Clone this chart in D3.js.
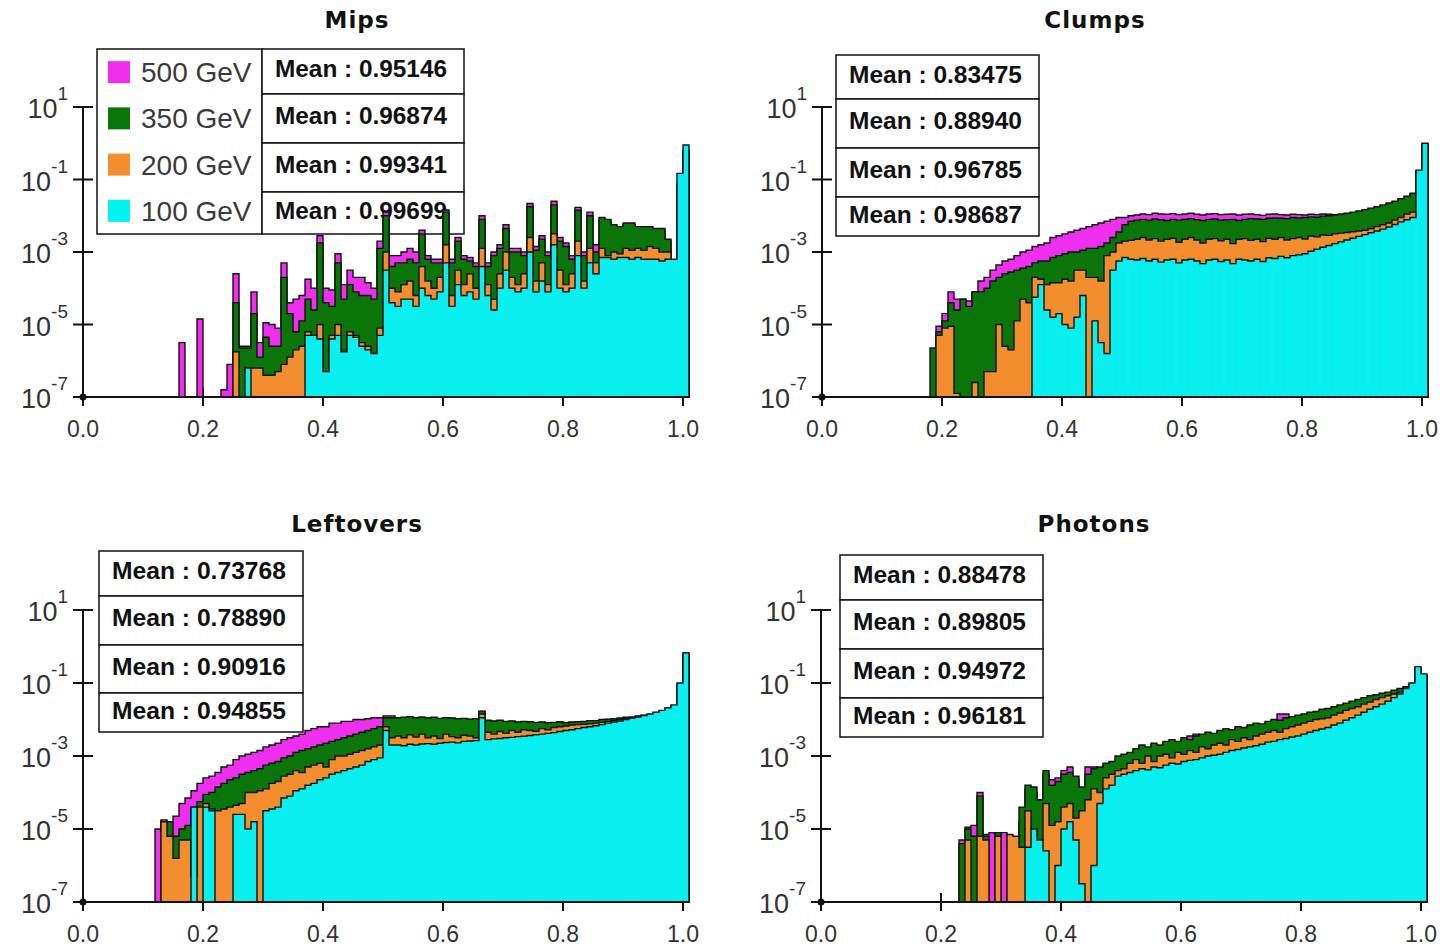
<!DOCTYPE html>
<html>
<head>
<meta charset="utf-8">
<script src="https://cdn.jsdelivr.net/npm/d3@7"></script>
<style>
  body { margin: 0; background: #fff; }
  svg text { font-family: "Liberation Sans", Arial, sans-serif; }
  .title { font-family: "DejaVu Sans", sans-serif; font-weight: bold; font-size: 23px; letter-spacing: 1px; fill: #111; }
  .mean { font-weight: bold; font-size: 23px; fill: #111; }
  .tick { font-size: 23px; fill: #333; }
  .legend { font-size: 28px; fill: #3a3a3a; }
</style>
</head>
<body>
<svg id="chart" width="1440" height="949"></svg>
<script>
// ---- data (bin contents as log10, bins of 0.01 starting at the given bin index) ----
var titles = ['Mips', 'Clumps', 'Leftovers', 'Photons'];
var energies = ['500 GeV', '350 GeV', '200 GeV', '100 GeV'];

var mipsMeans = ['0.95146', '0.96874', '0.99341', '0.99699'];
var clumpsMeans = ['0.83475', '0.88940', '0.96785', '0.98687'];
var leftoversMeans = ['0.73768', '0.78890', '0.90916', '0.94855'];
var photonsMeans = ['0.88478', '0.89805', '0.94972', '0.96181'];

var yTickExponents = [1, -1, -3, -5, -7];
var xTickValues = [0, 0.2, 0.4, 0.6, 0.8, 1.0];
var binWidth = 0.01;

// first bin index of each series: 500, 350, 200, 100 GeV
var mipsStart = [16, 25, 25, 27];
var mips500 = [-5.5, null, null, -4.85, null, null, null, -6.8, -6.1, -3.6,
  -5.6, -5.6, -4.1, -5.5, -4.95, -5.0, -5.1, -3.3, -4.4, -4.3,
  -4.2, -3.75, -4.0, -2.55, -4.0, -4.05, -3.05, -3.9, -3.5, -3.7,
  -3.7, -3.85, -4.0, -2.7, -1.9, -3.1, -3.1, -3.0, -2.9, -3.0,
  -2.4, -3.1, -3.2, -3.2, -1.84, -3.2, -2.6, -3.1, -3.15, -3.3,
  -2.0, -3.3, -3.0, -2.8, -2.25, -2.9, -2.9, -3.0, -1.66, -2.85,
  -2.55, -3.0, -1.6, -2.6, -2.75, -3.1, -1.77, -3.0, -1.9, -2.8,
  -2.1, -2.15, -2.3, -2.35, -2.25, -2.25, -2.35, -2.35, -2.35, -2.4,
  -2.4, -2.7, -3.35, -1.3, -0.4];
var mips350 = [-4.4, -5.65, -5.65, -4.7, -5.9, -5.35, -5.6, -5.6, -3.7, -4.7,
  -5.2, -4.9, -4.3, -4.6, -2.75, -4.4, -4.5, -3.3, -4.3, -3.9,
  -4.1, -4.2, -4.2, -4.3, -2.9, -2.0, -3.4, -3.3, -3.3, -3.2,
  -3.3, -2.5, -3.2, -3.3, -3.3, -1.9, -3.3, -2.7, -3.2, -3.25,
  -3.4, -2.1, -3.4, -3.1, -2.9, -2.35, -3.0, -3.0, -3.1, -1.75,
  -2.95, -2.65, -3.1, -1.7, -2.7, -2.85, -3.2, -1.85, -3.1, -2.0,
  -3.0, -2.05, -2.1, -2.25, -2.3, -2.2, -2.2, -2.3, -2.3, -2.3,
  -2.35, -2.35, -2.65, -3.3, -1.2, -0.3];
var mips200 = [-5.75, null, -6.2, -6.2, -6.2, -6.4, -6.4, -6.3, -6.1, -5.9,
  -5.7, -5.6, -5.2, -5.3, -5.0, -6.3, -5.3, -5.0, -5.7, -5.2,
  -5.3, -5.5, -5.6, -5.8, -5.1, -3.0, -4.0, -4.1, -3.9, -3.8,
  -4.2, -3.4, -3.8, -4.0, -3.7, -2.8, -4.2, -3.5, -3.9, -3.6,
  -4.0, -2.9, -3.9, -4.3, -3.6, -3.0, -3.7, -3.9, -3.6, -2.6,
  -3.8, -3.3, -3.9, -2.5, -3.5, -3.9, -3.6, -2.7, -3.8, -2.9,
  -3.3, -2.9, -3.1, -3.0, -3.05, -2.9, -2.95, -2.9, -2.95, -2.85,
  -2.9, -3.0, -3.0, -3.3, -1.1, -0.2];
var mips100 = [-6.2, null, null, null, null, null, null, null, null, null,
  -5.3, -5.3, -5.4, -6.3, -5.4, -5.3, -5.75, -5.3, -5.35, -5.6,
  -5.7, -5.8, -5.3, -3.5, -4.4, -4.5, -4.3, -4.3, -4.5, -4.0,
  -4.2, -4.3, -4.1, -3.3, -4.5, -3.9, -4.2, -4.1, -4.3, -3.4,
  -4.2, -4.6, -4.0, -3.5, -4.0, -4.1, -4.0, -3.0, -4.1, -3.8,
  -4.1, -2.8, -4.0, -4.1, -4.0, -3.1, -4.0, -3.3, -3.6, -3.15,
  -3.15, -3.2, -3.15, -3.15, -3.2, -3.15, -3.2, -3.2, -3.2, -3.25,
  -3.2, -3.2, -0.83, -0.05];

var clumpsStart = [19, 18, 19, 35];
var clumps500 = [-5.05, -4.7, -4.1, -4.3, -4.3, -4.35, -4.1, -3.8, -3.7, -3.5,
  -3.36, -3.25, -3.2, -3.1, -3.0, -2.95, -2.85, -2.8, -2.75, -2.6,
  -2.55, -2.5, -2.45, -2.4, -2.35, -2.3, -2.25, -2.2, -2.15, -2.1,
  -2.05, -2.05, -2.0, -1.98, -1.95, -1.97, -1.93, -1.95, -1.96, -1.94,
  -1.97, -1.95, -1.93, -1.96, -1.98, -1.95, -1.94, -1.97, -1.96, -1.95,
  -1.98, -1.96, -1.95, -1.97, -1.99, -1.96, -1.95, -1.97, -1.98, -1.96,
  -1.97, -1.98, -1.96, -1.97, -1.95, -1.96, -1.97, -1.97, -1.96, -1.93,
  -1.9, -1.86, -1.82, -1.78, -1.73, -1.68, -1.63, -1.56, -1.49, -1.41,
  -0.78, -0.03];
var clumps350 = [-5.65, -5.2, -4.9, -4.4, -4.6, -4.3, -4.5, -4.1, -4.1, -4.0,
  -3.8, -3.7, -3.6, -3.55, -3.5, -3.45, -3.4, -3.3, -3.25, -3.25,
  -3.15, -3.1, -3.05, -3.0, -3.0, -2.95, -2.9, -2.9, -2.85, -2.75,
  -2.6, -2.45, -2.25, -2.15, -2.12, -2.1, -2.12, -2.09, -2.11, -2.13,
  -2.1, -2.12, -2.1, -2.08, -2.11, -2.13, -2.1, -2.09, -2.12, -2.11,
  -2.1, -2.13, -2.1, -2.08, -2.09, -2.1, -2.07, -2.06, -2.07, -2.08,
  -2.05, -2.06, -2.05, -2.03, -2.04, -2.01, -2.0, -1.98, -1.95, -1.93,
  -1.9, -1.87, -1.83, -1.79, -1.75, -1.7, -1.65, -1.6, -1.53, -1.46,
  -1.38, -0.76, -0.02];
var clumps200 = [-5.3, -5.1, -5.05, -6.9, null, null, -6.6, null, -6.3, -6.3,
  -5.0, -5.6, -5.7, -4.9, -4.3, -4.4, -3.7, -3.75, -3.9, -3.85,
  -3.85, -3.75, -3.8, -3.5, -3.5, -3.7, -3.7, -3.8, -3.1, -3.0,
  -2.75, -2.7, -2.68, -2.65, -2.6, -2.67, -2.63, -2.7, -2.65, -2.62,
  -2.73, -2.65, -2.6, -2.67, -2.75, -2.65, -2.63, -2.69, -2.65, -2.77,
  -2.65, -2.63, -2.68, -2.65, -2.71, -2.62, -2.65, -2.6, -2.67, -2.63,
  -2.6, -2.64, -2.56, -2.58, -2.53, -2.54, -2.5, -2.48, -2.46, -2.44,
  -2.42, -2.4, -2.36, -2.3, -2.25, -2.2, -2.12, -2.05, -1.95, -1.9,
  -0.8, -0.05];
var clumps100 = [-4.25, -3.9, -4.6, -4.8, -4.7, -5.0, -5.1, -4.8, -4.2, null,
  -4.9, -5.5, -5.8, -3.5, -3.25, -3.15, -3.2, -3.22, -3.18, -3.25,
  -3.2, -3.28, -3.22, -3.2, -3.3, -3.22, -3.2, -3.25, -3.32, -3.22,
  -3.2, -3.26, -3.22, -3.32, -3.2, -3.22, -3.25, -3.2, -3.26, -3.16,
  -3.18, -3.12, -3.16, -3.1, -3.08, -3.05, -2.98, -2.92, -2.87, -2.82,
  -2.77, -2.72, -2.67, -2.62, -2.57, -2.52, -2.47, -2.42, -2.37, -2.31,
  -2.24, -2.17, -2.11, -2.05, -0.74, 0.0];

var leftoversStart = [12, 13, 13, 18];
var leftovers500 = [-5.0, -4.75, -4.8, -4.65, -4.3, -4.15, -3.95, -3.75, -3.6, -3.55,
  -3.45, -3.3, -3.25, -3.1, -3.0, -2.95, -2.9, -2.85, -2.75, -2.7,
  -2.65, -2.55, -2.5, -2.45, -2.4, -2.3, -2.25, -2.2, -2.2, -2.1,
  -2.1, -2.05, -2.05, -2.0, -2.0, -1.98, -1.95, -1.95, -1.9, -1.9,
  -1.97, -1.95, -1.94, -1.96, -1.95, -1.97, -1.95, -1.98, -1.96, -1.97,
  -2.0, -1.98, -2.0, -2.0, -1.78, -2.03, -2.05, -2.04, -2.06, -2.05,
  -2.08, -2.07, -2.07, -2.09, -2.08, -2.1, -2.09, -2.06, -2.1, -2.07,
  -2.07, -2.06, -2.04, -2.05, -2.02, -2.0, -2.0, -1.98, -1.96, -1.95,
  -1.92, -1.9, -1.88, -1.85, -1.81, -1.74, -1.65, -1.08, -0.25];
var leftovers350 = [-4.8, -4.8, -5.2, -5.0, -4.9, -4.4, -4.25, -4.05, -4.0, -3.85,
  -3.75, -3.65, -3.6, -3.5, -3.45, -3.4, -3.35, -3.25, -3.2, -3.15,
  -3.05, -3.0, -2.9, -2.85, -2.8, -2.75, -2.7, -2.65, -2.6, -2.55,
  -2.5, -2.45, -2.4, -2.35, -2.3, -2.25, -2.2, -1.95, -1.95, -1.95,
  -1.94, -1.92, -1.95, -1.93, -1.96, -1.94, -1.97, -1.95, -1.96, -1.98,
  -1.97, -1.99, -1.98, -1.77, -2.02, -2.04, -2.02, -2.05, -2.04, -2.07,
  -2.05, -2.06, -2.08, -2.07, -2.09, -2.08, -2.07, -2.09, -2.08, -2.06,
  -2.05, -2.03, -2.03, -2.0, -1.99, -1.98, -1.96, -1.94, -1.93, -1.9,
  -1.88, -1.86, -1.83, -1.79, -1.72, -1.63, -1.05, -0.22];
var leftovers200 = [-4.8, -5.2, -5.8, -5.3, -5.3, -6.3, -4.4, -4.3, -4.45, -4.5,
  -4.45, -4.4, -4.35, -4.3, -4.0, -4.0, -3.95, -3.9, -3.75, -3.7,
  -3.55, -3.5, -3.4, -3.45, -3.3, -3.25, -3.2, -3.3, -3.1, -3.0,
  -3.0, -2.95, -2.9, -2.85, -2.8, -2.75, -2.7, -2.2, -2.5, -2.45,
  -2.5, -2.42, -2.48, -2.4, -2.5, -2.45, -2.52, -2.4, -2.47, -2.5,
  -2.43, -2.45, -2.5, -1.85, -2.35, -2.4, -2.33, -2.38, -2.3, -2.35,
  -2.28, -2.3, -2.32, -2.25, -2.28, -2.22, -2.2, -2.18, -2.15, -2.14,
  -2.13, -2.12, -2.1, -2.08, -2.05, -2.03, -2.0, -1.98, -1.96, -1.93,
  -1.9, -1.87, -1.84, -1.8, -1.73, -1.64, -1.05, -0.22];
var leftovers100 = [-4.4, null, -4.4, -4.5, null, null, null, -4.6, -4.6, -5.0,
  -4.8, null, -4.5, -4.45, -4.4, -4.15, -4.1, -3.95, -3.9, -3.8,
  -3.75, -3.65, -3.6, -3.5, -3.45, -3.4, -3.35, -3.3, -3.25, -3.15,
  -3.1, -3.05, -2.3, -2.7, -2.7, -2.72, -2.68, -2.7, -2.67, -2.66,
  -2.68, -2.65, -2.63, -2.62, -2.64, -2.6, -2.59, -2.58, -1.95, -2.55,
  -2.53, -2.52, -2.5, -2.49, -2.47, -2.46, -2.44, -2.42, -2.4, -2.38,
  -2.36, -2.33, -2.3, -2.28, -2.25, -2.22, -2.2, -2.17, -2.14, -2.1,
  -2.07, -2.04, -2.0, -1.97, -1.93, -1.89, -1.85, -1.8, -1.75, -1.68,
  -1.6, -1.0, -0.17];

var photonsStart = [23, 23, 24, 34];
var photons500 = [-5.3, -4.95, -4.9, -4.0, -5.15, -5.1, -5.15, -5.1, -5.2, -5.3,
  -4.8, -3.9, -4.0, -4.3, -3.5, -3.65, -3.6, -3.4, -3.3, -3.65,
  -3.9, -3.3, -3.3, -3.4, -3.25, -3.2, -3.1, -3.0, -2.95, -2.85,
  -2.75, -2.8, -2.7, -2.75, -2.65, -2.6, -2.65, -2.55, -2.45, -2.4,
  -2.45, -2.4, -2.43, -2.35, -2.3, -2.33, -2.25, -2.27, -2.2, -2.15,
  -2.17, -2.1, -2.05, -1.85, -1.85, -1.97, -1.93, -1.9, -1.85, -1.83,
  -1.77, -1.75, -1.7, -1.65, -1.6, -1.55, -1.5, -1.45, -1.4, -1.37,
  -1.33, -1.3, -1.25, -1.2, -1.15, -1.1, -0.65, -0.85];
var photons350 = [-5.4, -5.0, -5.2, -4.1, -5.2, null, -5.1, null, -5.3, -5.4,
  -4.4, -3.8, -3.85, -4.2, -3.4, -3.8, -3.7, -3.5, -3.45, -3.55,
  -3.85, -3.5, -3.35, -3.3, -3.2, -3.15, -3.0, -2.95, -2.9, -2.8,
  -2.7, -2.75, -2.65, -2.7, -2.6, -2.55, -2.6, -2.5, -2.55, -2.45,
  -2.4, -2.35, -2.38, -2.3, -2.25, -2.28, -2.2, -2.22, -2.15, -2.1,
  -2.12, -2.05, -2.0, -2.02, -1.95, -1.92, -1.88, -1.85, -1.8, -1.78,
  -1.72, -1.7, -1.65, -1.6, -1.55, -1.5, -1.45, -1.4, -1.35, -1.32,
  -1.28, -1.25, -1.2, -1.15, -1.1, -1.05, -0.6, -0.8];
var photons200 = [-5.3, null, -5.2, -5.3, null, -5.2, null, -5.15, -5.2, -5.5,
  -4.5, -5.0, -5.3, -4.3, -4.9, -4.8, -4.4, -4.3, -4.7, -4.5,
  -4.2, -3.9, -4.0, -3.6, -3.5, -3.4, -3.35, -3.2, -3.1, -3.2,
  -3.0, -3.15, -3.0, -2.95, -3.05, -2.9, -2.95, -2.85, -2.9, -2.75,
  -2.8, -2.7, -2.65, -2.7, -2.55, -2.6, -2.5, -2.55, -2.45, -2.4,
  -2.35, -2.3, -2.35, -2.25, -2.2, -2.15, -2.1, -2.05, -2.0, -1.98,
  -1.95, -1.88, -1.82, -1.75, -1.7, -1.65, -1.58, -1.52, -1.45, -1.4,
  -1.35, -1.3, -1.25, -1.15, -1.05, -0.6, -0.8];
var photons100 = [-5.5, -5.0, -5.3, -5.6, null, -6.0, -5.0, -4.8, -5.3, -6.5,
  null, -6.0, -4.3, -3.9, -3.8, -3.55, -3.5, -3.45, -3.4, -3.35,
  -3.38, -3.3, -3.32, -3.25, -3.2, -3.22, -3.15, -3.12, -3.1, -3.05,
  -3.0, -2.98, -2.95, -2.9, -2.85, -2.82, -2.78, -2.75, -2.72, -2.68,
  -2.62, -2.6, -2.55, -2.52, -2.48, -2.45, -2.4, -2.35, -2.3, -2.26,
  -2.22, -2.15, -2.1, -2.02, -1.95, -1.88, -1.8, -1.72, -1.65, -1.58,
  -1.5, -1.4, -1.3, -1.15, -1.0, -0.55, -0.75];

// ---- look and layout ----
var seriesColors = ['#ee30ee', '#0a760a', '#f28e2e', '#00f2f2'];
var cyanStripe = '#40dcdc';

var panels = [
  { title: titles[0], means: mipsMeans, start: mipsStart, series: [mips500, mips350, mips200, mips100],
    x0: 83, base: 397, top: 107, titleX: 357, titleY: 28,
    box: { x: 262, w: 202, rows: [49, 94, 143, 192, 234] }, legend: { x: 97, w: 165 } },
  { title: titles[1], means: clumpsMeans, start: clumpsStart, series: [clumps500, clumps350, clumps200, clumps100],
    x0: 822, base: 397, top: 107, titleX: 1095, titleY: 28,
    box: { x: 836, w: 203, rows: [55, 99, 148, 197, 236] } },
  { title: titles[2], means: leftoversMeans, start: leftoversStart, series: [leftovers500, leftovers350, leftovers200, leftovers100],
    x0: 83, base: 902, top: 610, titleX: 357, titleY: 532,
    box: { x: 99, w: 204, rows: [551, 596, 645, 693, 732] } },
  { title: titles[3], means: photonsMeans, start: photonsStart, series: [photons500, photons350, photons200, photons100],
    x0: 821, base: 902, top: 610, titleX: 1094, titleY: 532,
    box: { x: 840, w: 203, rows: [555, 600, 649, 698, 737] } }
];

var svg = d3.select('#chart');

function histPath(x, y, first, vals) {
  var p = d3.path(), open = false, lastRight = 0, base = y.range()[0];
  vals.forEach(function(v, j) {
    var i = first + j;
    var xl = x(i * binWidth), xr = x((i + 1) * binWidth);
    if (v === null) {
      if (open) { p.lineTo(lastRight, base); p.closePath(); open = false; }
      return;
    }
    var yy = y(Math.pow(10, v));
    if (!open) { p.moveTo(xl, base); open = true; }
    p.lineTo(xl, yy);
    p.lineTo(xr, yy);
    lastRight = xr;
  });
  if (open) { p.lineTo(lastRight, base); p.closePath(); }
  return p.toString();
}

function drawPanel(p) {
  var g = svg.append('g');
  var x = d3.scaleLinear().domain([0, 1]).range([p.x0, p.x0 + 600]);
  var y = d3.scaleLog().domain([1e-7, 10]).range([p.base, p.top]);

  g.append('text').attr('class', 'title')
    .attr('x', p.titleX).attr('y', p.titleY)
    .attr('text-anchor', 'middle').text(p.title);

  // legend with colour boxes (first panel only)
  if (p.legend) {
    var r = p.box.rows, h = (r[4] - r[0]) / 4;
    g.append('rect').attr('x', p.legend.x).attr('y', r[0])
      .attr('width', p.legend.w).attr('height', r[4] - r[0])
      .attr('fill', '#fff').attr('stroke', '#111').attr('stroke-width', 1.5);
    energies.forEach(function(e, k) {
      var cy = r[0] + h * (k + 0.5);
      g.append('rect').attr('x', p.legend.x + 11).attr('y', cy - 11)
        .attr('width', 22).attr('height', 22).attr('fill', seriesColors[k]);
      g.append('text').attr('class', 'legend')
        .attr('x', p.legend.x + 44).attr('y', cy + 10).text(e);
    });
  }

  // stat boxes
  p.means.forEach(function(m, k) {
    var top = p.box.rows[k], hh = p.box.rows[k + 1] - top;
    g.append('rect').attr('x', p.box.x).attr('y', top)
      .attr('width', p.box.w).attr('height', hh)
      .attr('fill', '#fff').attr('stroke', '#111').attr('stroke-width', 1.5);
    g.append('text').attr('class', 'mean')
      .attr('x', p.box.x + 13).attr('y', top + hh * 0.45 + 8)
      .attr('textLength', p.box.w - 30).attr('lengthAdjust', 'spacingAndGlyphs')
      .text('Mean : ' + m);
  });

  // ticks
  yTickExponents.forEach(function(e) {
    var yy = y(Math.pow(10, e));
    g.append('line').attr('x1', p.x0 - 10).attr('x2', p.x0 + 10)
      .attr('y1', yy).attr('y2', yy).attr('stroke', '#111').attr('stroke-width', 2);
    var t = g.append('text').attr('class', 'tick')
      .attr('x', p.x0 - 15).attr('y', yy + 11).attr('text-anchor', 'end');
    t.append('tspan').attr('font-size', 27).text('10');
    t.append('tspan').attr('font-size', 19).attr('dy', -18).text(e);
  });
  xTickValues.forEach(function(v) {
    g.append('line').attr('x1', x(v)).attr('x2', x(v))
      .attr('y1', p.base - 9).attr('y2', p.base + 9)
      .attr('stroke', '#111').attr('stroke-width', 2);
    g.append('text').attr('class', 'tick')
      .attr('x', x(v)).attr('y', p.base + 40).attr('text-anchor', 'middle')
      .text(d3.format('.1f')(v));
  });

  // histograms, 500 GeV at the back, 100 GeV in front
  p.series.forEach(function(vals, k) {
    g.append('path').attr('d', histPath(x, y, p.start[k], vals))
      .attr('fill', seriesColors[k]).attr('stroke', '#111')
      .attr('stroke-width', 1.4).attr('stroke-linejoin', 'miter');
    if (k === 3) {
      vals.forEach(function(v, j) {
        if (v === null) return;
        var xl = x((p.start[k] + j) * binWidth);
        g.append('line').attr('x1', xl + 3).attr('x2', xl + 3)
          .attr('y1', p.base - 1).attr('y2', y(Math.pow(10, v)) + 2)
          .attr('stroke', cyanStripe).attr('stroke-width', 0.8);
      });
    }
  });

  // axes
  g.append('line').attr('x1', p.x0).attr('x2', x(1.01))
    .attr('y1', p.base).attr('y2', p.base).attr('stroke', '#111').attr('stroke-width', 2);
  g.append('line').attr('x1', p.x0).attr('x2', p.x0)
    .attr('y1', p.base).attr('y2', p.top).attr('stroke', '#111').attr('stroke-width', 2);
  g.append('circle').attr('cx', p.x0).attr('cy', p.base).attr('r', 3.5).attr('fill', '#111');
}

panels.forEach(drawPanel);
</script>
</body>
</html>
